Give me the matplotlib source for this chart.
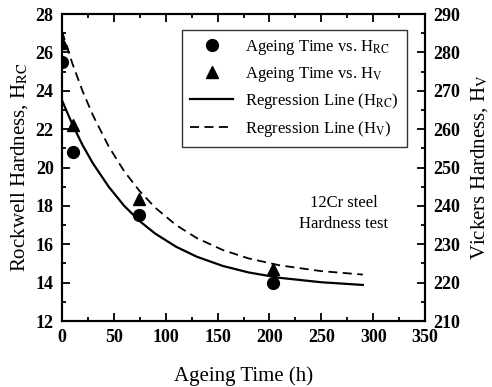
import numpy as np
import matplotlib
matplotlib.use("Agg")
import matplotlib.pyplot as plt
from matplotlib.ticker import MultipleLocator

plt.rcParams['font.family'] = ['Liberation Serif', 'DejaVu Serif']
plt.rcParams['mathtext.fontset'] = 'stix'

# measured points
t_hrc = [0, 11, 74, 203]
hrc = [25.5, 20.8, 17.5, 14.0]
t_hv = [0, 11, 74, 203]
hv = [282.5, 261, 241.8, 223.5]

# regression curves
t_fit = [0, 10, 20, 30, 45, 60, 75, 90, 110, 130, 155, 180, 210, 250, 290]
hrc_fit = [23.5, 22.25, 21.15, 20.2, 19.0, 18.0, 17.2, 16.55, 15.87, 15.35,
           14.87, 14.53, 14.25, 14.02, 13.88]
hv_fit = [285.5, 277.1, 269.8, 263.5, 255.5, 249.0, 243.8, 239.5, 235.0, 231.6,
          228.5, 226.3, 224.5, 223.0, 222.1]

fig = plt.figure(figsize=(4.92, 3.87), dpi=100)
ax = fig.add_axes([0.126, 0.1705, 0.738, 0.7933])
ax2 = ax.twinx()

h1, = ax.plot(t_hrc, hrc, 'o', color='black', markersize=8.5, linestyle='none',
              label=r'Ageing Time vs. H$_{\rm RC}$')
h3, = ax.plot(t_fit, hrc_fit, '-', color='black', linewidth=1.6,
              label=r'Regression Line (H$_{\rm RC}$)')
h2, = ax2.plot(t_hv, hv, '^', color='black', markersize=8.5, linestyle='none',
               label=r'Ageing Time vs. H$_{\rm V}$')
h4, = ax2.plot(t_fit, hv_fit, '--', color='black', linewidth=1.3, dashes=(5, 3),
               label=r'Regression Line (H$_{\rm V}$)')

ax.set_xlim(0, 350)
ax.set_ylim(12, 28)
ax2.set_ylim(210, 290)

ax.xaxis.set_major_locator(MultipleLocator(50))
ax.xaxis.set_minor_locator(MultipleLocator(25))
ax.yaxis.set_major_locator(MultipleLocator(2))
ax.yaxis.set_minor_locator(MultipleLocator(1))
ax2.yaxis.set_major_locator(MultipleLocator(10))
ax2.yaxis.set_minor_locator(MultipleLocator(5))

ax.tick_params(which='both', direction='in', top=True, right=False, width=1.3)
ax.tick_params(which='major', length=6, labelsize=13, pad=6)
ax.tick_params(which='minor', length=3)
ax2.tick_params(which='both', direction='in', width=1.3)
ax2.tick_params(which='major', length=6, labelsize=13, pad=6)
ax2.tick_params(which='minor', length=3)
for lab in ax.get_xticklabels() + ax.get_yticklabels() + ax2.get_yticklabels():
    lab.set_fontweight('bold')

for a in (ax, ax2):
    for s in a.spines.values():
        s.set_linewidth(1.5)

ax.set_xlabel('Ageing Time (h)', fontsize=15, labelpad=14)
ax.set_ylabel(r'Rockwell Hardness, H$_{\rm RC}$', fontsize=15, labelpad=4)
ax2.set_ylabel(r'Vickers Hardness, H$_{\rm V}$', fontsize=15, labelpad=6)

leg = ax2.legend(handles=[h1, h2, h3, h4], loc='upper right',
                 bbox_to_anchor=(0.950, 0.948), borderaxespad=0,
                 fontsize=12, frameon=True,
                 fancybox=False, edgecolor='black', handlelength=2.6,
                 borderpad=0.5, labelspacing=0.45, handletextpad=0.7)
leg.get_frame().set_linewidth(1.0)

ax.text(0.776, 0.35, '12Cr steel\nHardness test', transform=ax.transAxes,
        fontsize=12, ha='center', va='center', linespacing=1.35)

fig.savefig('out.png', dpi=100)
